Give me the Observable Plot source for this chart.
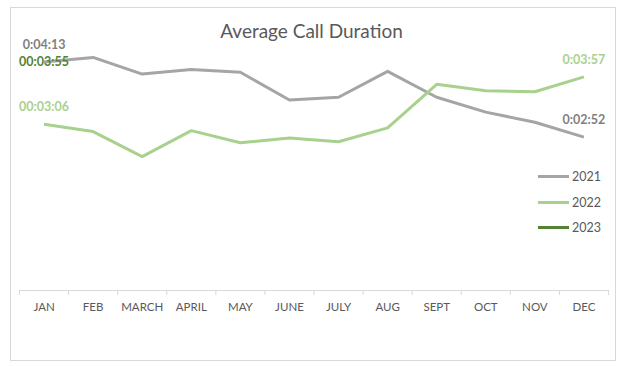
<!DOCTYPE html>
<html>
<head>
<meta charset="utf-8">
<script src="https://cdn.jsdelivr.net/npm/d3@7"></script>
<script src="https://cdn.jsdelivr.net/npm/@observablehq/plot@0.6"></script>
<style>
  html, body { margin: 0; padding: 0; background: #fff; }
  #wrap { position: relative; width: 621px; height: 366px; overflow: hidden; font-family: Lato, "Open Sans", sans-serif; }
  #border { position: absolute; left: 10px; top: 7px; width: 604px; height: 352px; border: 1px solid #d9d9d9; }
  #title { position: absolute; left: 0; width: 623px; top: 19px; text-align: center; font-size: 19px; color: #595959; }
  #chart { position: absolute; left: 0; top: 0; }
  #legend { position: absolute; left: 538px; top: 164px; font-size: 12.5px; color: #595959; }
  .li { display: flex; align-items: center; height: 25.5px; }
  .sw { width: 31px; height: 3px; margin-right: 3px; }
</style>
</head>
<body>
<div id="wrap">
  <div id="border"></div>
  <div id="chart"></div>
  <div id="title">Average Call Duration</div>
  <div id="legend"></div>
</div>
<script>
const months = ["JAN","FEB","MARCH","APRIL","MAY","JUNE","JULY","AUG","SEPT","OCT","NOV","DEC"];
// values in seconds
const s2021 = [253, 258, 240, 245, 242, 212, 215, 243, 215, 199, 188, 172];
const s2022 = [186, 178, 151, 179, 166, 171, 167, 182, 229, 222, 221, 237];
const s2023 = [235];
const seriesNames = ["2021", "2022", "2023"];
const seriesColors = ["#a5a5a5", "#a9d18e", "#548235"];
const labelColors = ["#7f7f7f", "#a9d18e", "#548235"];

// data labels: [series index, month index, text]
const labelSeries = [0, 2, 1, 1, 0];
const labelMonth  = [0, 0, 0, 11, 11];
const labelText   = ["0:04:13", "00:03:55", "00:03:06", "0:03:57", "0:02:52"];

const yDomain = [6.5, 300];

const allSeries = [s2021, s2022, s2023];
const rows = [];
allSeries.forEach((arr, k) => arr.forEach((v, i) => rows.push({series: seriesNames[k], i, v})));
const labels = labelText.map((t, j) => ({
  series: seriesNames[labelSeries[j]],
  i: labelMonth[j],
  v: allSeries[labelSeries[j]][labelMonth[j]],
  t,
  c: labelColors[labelSeries[j]]
}));

const plot = Plot.plot({
  width: 621,
  height: 366,
  marginLeft: 19,
  marginRight: 13,
  marginTop: 18,
  marginBottom: 76,
  style: {fontFamily: "Lato, 'Open Sans', sans-serif", background: "transparent"},
  x: {type: "linear", domain: [-0.5, 11.5]},
  y: {domain: yDomain, axis: null},
  color: {domain: seriesNames, range: seriesColors},
  marks: [
    Plot.ruleY([yDomain[0]], {stroke: "#d9d9d9", strokeWidth: 1}),
    Plot.axisX({ticks: d3.range(13).map(i => i - 0.5), tickFormat: () => "", tickSize: 5, stroke: "#d9d9d9", label: null}),
    Plot.axisX({ticks: d3.range(12), tickFormat: i => months[i], tickSize: 0, tickPadding: 12, fontSize: 11.5, fill: "#595959", label: null}),
    Plot.line(rows, {x: "i", y: "v", z: "series", stroke: "series", strokeWidth: 3, strokeLinejoin: "round", strokeLinecap: "butt"}),
    Plot.text(labels, {x: "i", y: "v", text: "t", fill: "c", dy: -17, fontSize: 12.5, fontWeight: "bold"})
  ]
});
document.getElementById("chart").appendChild(plot);

const legend = document.getElementById("legend");
seriesNames.forEach((n, k) => {
  const row = document.createElement("div");
  row.className = "li";
  row.innerHTML = `<div class="sw" style="background:${seriesColors[k]}"></div><span>${n}</span>`;
  legend.appendChild(row);
});
</script>
</body>
</html>
